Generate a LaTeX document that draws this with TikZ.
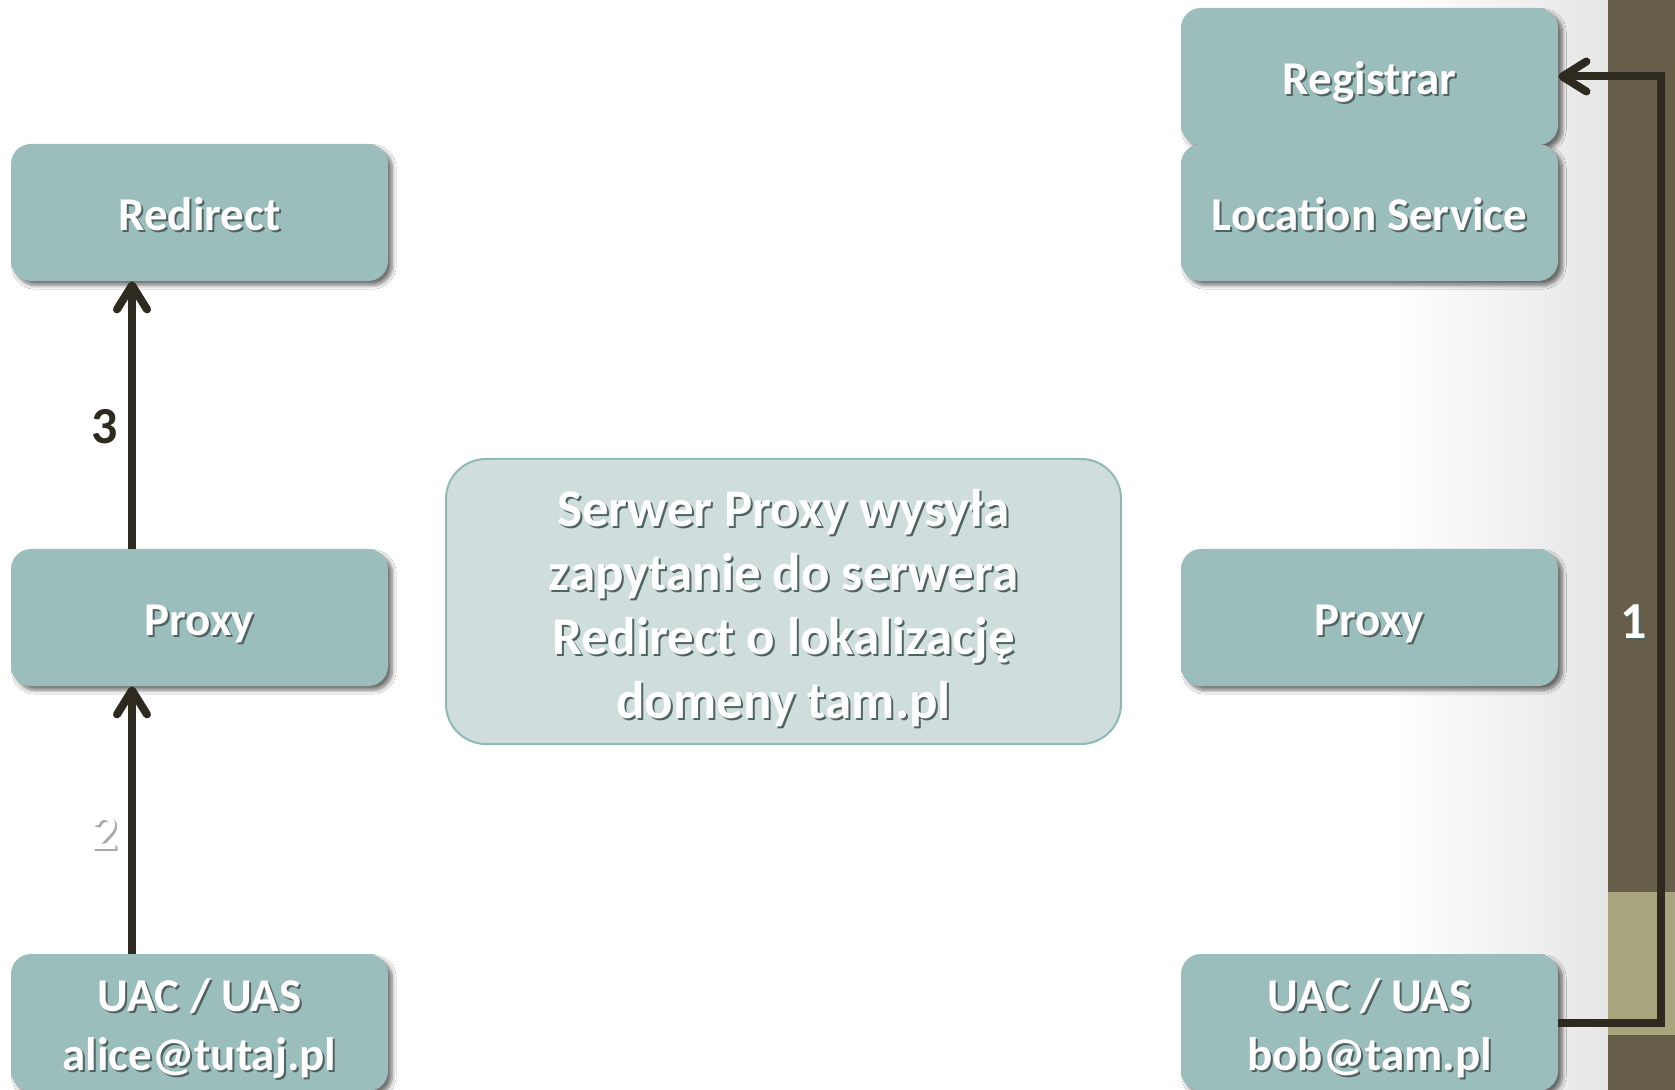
\documentclass[tikz,border=0pt]{standalone}
\usepackage{fontspec}
\setmainfont{Carlito}
\usetikzlibrary{arrows.meta,shadows.blur}

\definecolor{boxfill}{HTML}{9BBDBC}
\definecolor{notefill}{HTML}{CFDEDD}
\definecolor{noteline}{HTML}{8FB8B6}
\definecolor{linecol}{HTML}{2E2A20}
\definecolor{bandDark}{HTML}{665E48}
\definecolor{bandLight}{HTML}{A8A47D}
\definecolor{pagegray}{HTML}{E6E6E6}
\definecolor{txtshadow}{HTML}{4F6362}

% fixed line height, so every line sits on the same baseline grid
\newlength\lnH
\setlength\lnH{18pt}
% white lettering with a small offset shadow behind it
\newcommand\shd[1]{\raisebox{0pt}[\lnH][0pt]{\rlap{\hspace{1pt}\raisebox{-1pt}{\textcolor{txtshadow}{#1}}}#1}}
\newcommand\shdn[2][txtshadow]{\leavevmode\rlap{\hspace{1pt}\raisebox{-1pt}{\textcolor{#1}{#2}}}#2}

\tikzset{
  unit/.style={rectangle, rounded corners=10pt, fill=boxfill,
    minimum width=188.5pt, minimum height=68.5pt, inner sep=0pt,
    text=white, align=center,
    font=\bfseries\fontsize{23.5}{29.5}\selectfont\setlength\lnH{18pt},
    blur shadow={shadow xshift=2.2pt, shadow yshift=-2.2pt,
      shadow blur steps=8, shadow opacity=55}},
  note/.style={rectangle, rounded corners=20pt, fill=notefill,
    draw=noteline, line width=1pt,
    minimum width=337.5pt, minimum height=142.5pt, inner sep=0pt,
    text=white, align=center,
    font=\bfseries\fontsize{26.5}{32}\selectfont\setlength\lnH{20.5pt}},
  conn/.style={draw=linecol, line width=4pt,
    -{Straight Barb[length=12pt,width=15pt,round]}},
  lbl/.style={font=\bfseries\fontsize{26}{30}\selectfont, inner sep=0pt}
}

\begin{document}
\begin{tikzpicture}[x=0.5pt,y=-0.5pt]
\useasboundingbox (0,0) rectangle (1675,1090);

% page background and side band
\fill[white] (0,0) rectangle (1608,1090);
\shade[left color=white, right color=pagegray] (1390,0) rectangle (1608,1090);
\fill[bandDark] (1608,0) rectangle (1675,1090);
\fill[bandLight] (1608,892) rectangle (1675,1035);

% left column
\node[unit] (redirect) at (199.5,212.5) {\shd{Redirect}};
\node[unit] (lproxy)   at (199.5,617.5) {\shd{Proxy}};
\node[unit] (alice)    at (199.5,1022.5) {\shd{UAC / UAS}\\\shd{alice@tutaj.pl}};

% right column
\node[unit] (reg)    at (1369.5,76.5)  {\shd{Registrar}};
\node[unit] (loc)    at (1369.5,212.5) {\shd{Location Service}};
\node[unit] (rproxy) at (1369.5,617.5) {\shd{Proxy}};
\node[unit] (bob)    at (1369.5,1022.5) {\shd{UAC / UAS}\\\shd{bob@tam.pl}};

% description
\node[note] (desc) at (783.5,601.5)
  {\shd{Serwer Proxy wysyła}\\\shd{zapytanie do serwera}\\\shd{Redirect o lokalizację}\\\shd{domeny tam.pl}};

% connectors
\coordinate (lx) at (132,0);
\coordinate (turn) at (1661,76.5);
\draw[conn] (bob.east) -| (turn) -- (reg.east);
\draw[conn] (alice.north -| lx) -- (lproxy.south -| lx);
\draw[conn] (lproxy.north -| lx) -- (redirect.south -| lx);

% step numbers
\node[lbl, text=white] (n1) at (1634,623) {\shdn{1}};
\node[lbl, text=white] (n2) at (105,833) {\shdn[black!35]{2}};
\node[lbl, text=linecol] (n3) at (105,427) {3};
\end{tikzpicture}
\end{document}
